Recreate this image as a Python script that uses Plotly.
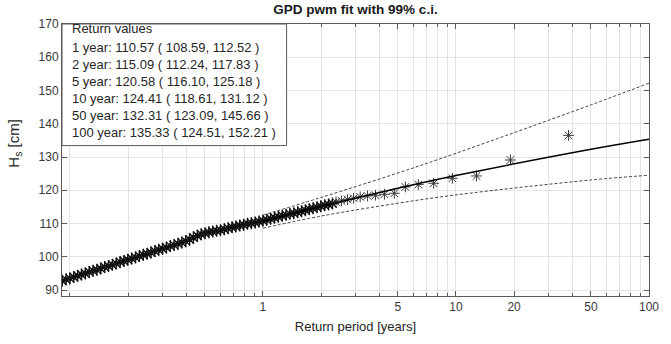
import plotly.graph_objects as go

# Empirical return periods [years] and Hs [cm] for the bulk of the sorted sample
bulk_period = [
    0.0912, 0.0955, 0.100, 0.1047, 0.1096, 0.1148, 0.1202, 0.1259, 0.1318, 0.1380,
    0.1445, 0.1514, 0.1585, 0.1660, 0.1738, 0.1820, 0.1905, 0.1995, 0.2089, 0.2188,
    0.2291, 0.2399, 0.2512, 0.2630, 0.2754, 0.2884, 0.3020, 0.3162, 0.3311, 0.3467,
    0.3631, 0.3802, 0.3981, 0.4169, 0.4365, 0.4571, 0.4786, 0.5012, 0.5248, 0.5495,
    0.5754, 0.6026, 0.6310, 0.6607, 0.6918, 0.7244, 0.7586, 0.7943, 0.8318, 0.8710,
    0.9120, 0.9550, 1.000, 1.047, 1.096, 1.148, 1.202, 1.259, 1.318, 1.380,
    1.445, 1.514, 1.585, 1.660, 1.738, 1.820, 1.905, 1.995, 2.089, 2.188, 2.291,
]
bulk_hs = [
    92.8, 93.2, 93.5, 93.9, 94.3, 94.7, 95.0, 95.4, 95.8, 96.1,
    96.5, 96.9, 97.2, 97.6, 98.0, 98.4, 98.7, 99.1, 99.5, 99.8,
    100.2, 100.6, 100.9, 101.3, 101.7, 102.1, 102.4, 102.8, 103.2, 103.5,
    103.9, 104.3, 104.7, 105.2, 105.8, 106.3, 106.8, 107.1, 107.4, 107.6,
    107.8, 108.0, 108.3, 108.6, 108.9, 109.1, 109.4, 109.6, 109.9, 110.1,
    110.3, 110.6, 110.8, 111.1, 111.4, 111.7, 112.0, 112.3, 112.6, 112.9,
    113.1, 113.4, 113.7, 114.0, 114.3, 114.6, 114.9, 115.2, 115.5, 115.7, 116.0,
]

# Largest observations (upper tail)
tail_period = [38.3, 19.15, 12.77, 9.58, 7.66, 6.38, 5.47, 4.79, 4.26, 3.83,
               3.48, 3.19, 2.95, 2.74, 2.55, 2.39]
tail_hs = [136.5, 129.1, 124.3, 123.6, 122.1, 121.7, 121.0, 119.1, 118.8, 118.5,
           118.3, 118.0, 117.6, 117.2, 116.8, 116.5]

# GPD (pwm) return values with 99% confidence interval
fit_period = [1, 2, 5, 10, 50, 100]
fit_hs = [110.57, 115.09, 120.58, 124.41, 132.31, 135.33]
ci_low = [108.59, 112.24, 116.10, 118.61, 123.09, 124.51]
ci_high = [112.52, 117.83, 125.18, 131.12, 145.66, 152.21]

x_tickvals = [1, 5, 10, 20, 50, 100]
x_minorvals = [0.1, 0.2, 0.3, 0.4, 0.5, 0.6, 0.7, 0.8, 0.9,
               2, 3, 4, 6, 7, 8, 9, 20, 30, 40, 60, 70, 80, 90]
y_tickvals = [90, 100, 110, 120, 130, 140, 150, 160, 170]

FONT = "Liberation Sans, Arial, sans-serif"
AXIS_COLOR = "#5a5a5a"
GRID_COLOR = "#e4e4e4"

fig = go.Figure()

fig.add_trace(go.Scatter(
    x=bulk_period, y=bulk_hs, mode="markers", showlegend=False, hoverinfo="skip",
    marker=dict(symbol="asterisk-open", size=10, color="#111111",
                line=dict(color="#111111", width=1.4))))
fig.add_trace(go.Scatter(
    x=tail_period, y=tail_hs, mode="markers", showlegend=False,
    marker=dict(symbol="asterisk-open", size=9, color="#3a3a3a",
                line=dict(color="#3a3a3a", width=1))))

for ci in (ci_high, ci_low):
    fig.add_trace(go.Scatter(x=fit_period, y=ci, mode="lines",
                             line=dict(color="#444444", width=1, dash="3px,2px",
                                       shape="spline"),
                             showlegend=False))
fig.add_trace(go.Scatter(x=fit_period, y=fit_hs, mode="lines",
                         line=dict(color="black", width=1.5, shape="spline"),
                         showlegend=False))

# Return-value box in the upper-left corner of the axes
fig.add_shape(type="rect", xref="x domain", yref="y domain",
              x0=0, x1=0.3826, y0=0.553, y1=1,
              line=dict(color=AXIS_COLOR, width=1), fillcolor="white", layer="above")
fig.add_annotation(xref="x domain", yref="y domain", x=0, y=0.9817,
                   xanchor="left", yanchor="middle", xshift=8, showarrow=False,
                   text="Return values", font=dict(family=FONT, size=13, color="#262626"))
lines = [f"{p} year: {v:.2f} ( {lo:.2f}, {hi:.2f} )"
         for p, v, lo, hi in zip(fit_period, fit_hs, ci_low, ci_high)]
fig.add_annotation(xref="x domain", yref="y domain", x=0, y=0.7564,
                   xanchor="left", yanchor="middle", xshift=8, showarrow=False,
                   align="left", text="<br>".join(lines),
                   font=dict(family=FONT, size=13, color="#262626"))

# Y-axis label, placed as a rotated annotation left of the tick labels
fig.add_annotation(xref="x domain", yref="y domain", x=0, y=0.56,
                   xanchor="center", yanchor="middle", xshift=-47, showarrow=False,
                   textangle=-90, text="H<sub>s</sub> [cm]",
                   font=dict(family=FONT, size=15, color="#262626"))

fig.update_layout(
    width=671, height=344,
    margin=dict(l=62, r=13, t=24, b=47),
    paper_bgcolor="white", plot_bgcolor="white",
    font=dict(family=FONT, color="#262626"),
    title=dict(text="<b>GPD pwm fit with 99% c.i.</b>", x=0.5, xref="paper",
               y=0.972, yref="container", xanchor="center", yanchor="middle",
               font=dict(family=FONT, size=13.5, color="#1a1a1a")),
)

fig.update_xaxes(
    type="log", range=[-1.041, 2.0],
    tickvals=x_tickvals, ticktext=[str(v) for v in x_tickvals],
    ticks="inside", ticklen=5, tickcolor=AXIS_COLOR,
    showline=True, linecolor=AXIS_COLOR, linewidth=1, mirror="ticks",
    showgrid=True, gridcolor=GRID_COLOR, gridwidth=1, zeroline=False,
    tickfont=dict(family=FONT, size=12, color="#3a3a3a"),
    minor=dict(tickvals=x_minorvals, ticks="inside", ticklen=3,
               tickcolor=AXIS_COLOR, showgrid=True, gridcolor=GRID_COLOR),
    title=dict(text="Return period [years]", standoff=8,
               font=dict(family=FONT, size=13, color="#262626")),
)
fig.update_yaxes(
    range=[88.2, 170], tickvals=y_tickvals,
    ticks="inside", ticklen=5, tickcolor=AXIS_COLOR,
    showline=True, linecolor=AXIS_COLOR, linewidth=1, mirror="ticks",
    showgrid=True, gridcolor=GRID_COLOR, gridwidth=1, zeroline=False,
    tickfont=dict(family=FONT, size=12, color="#3a3a3a"),
)

fig.write_html("out.html")
